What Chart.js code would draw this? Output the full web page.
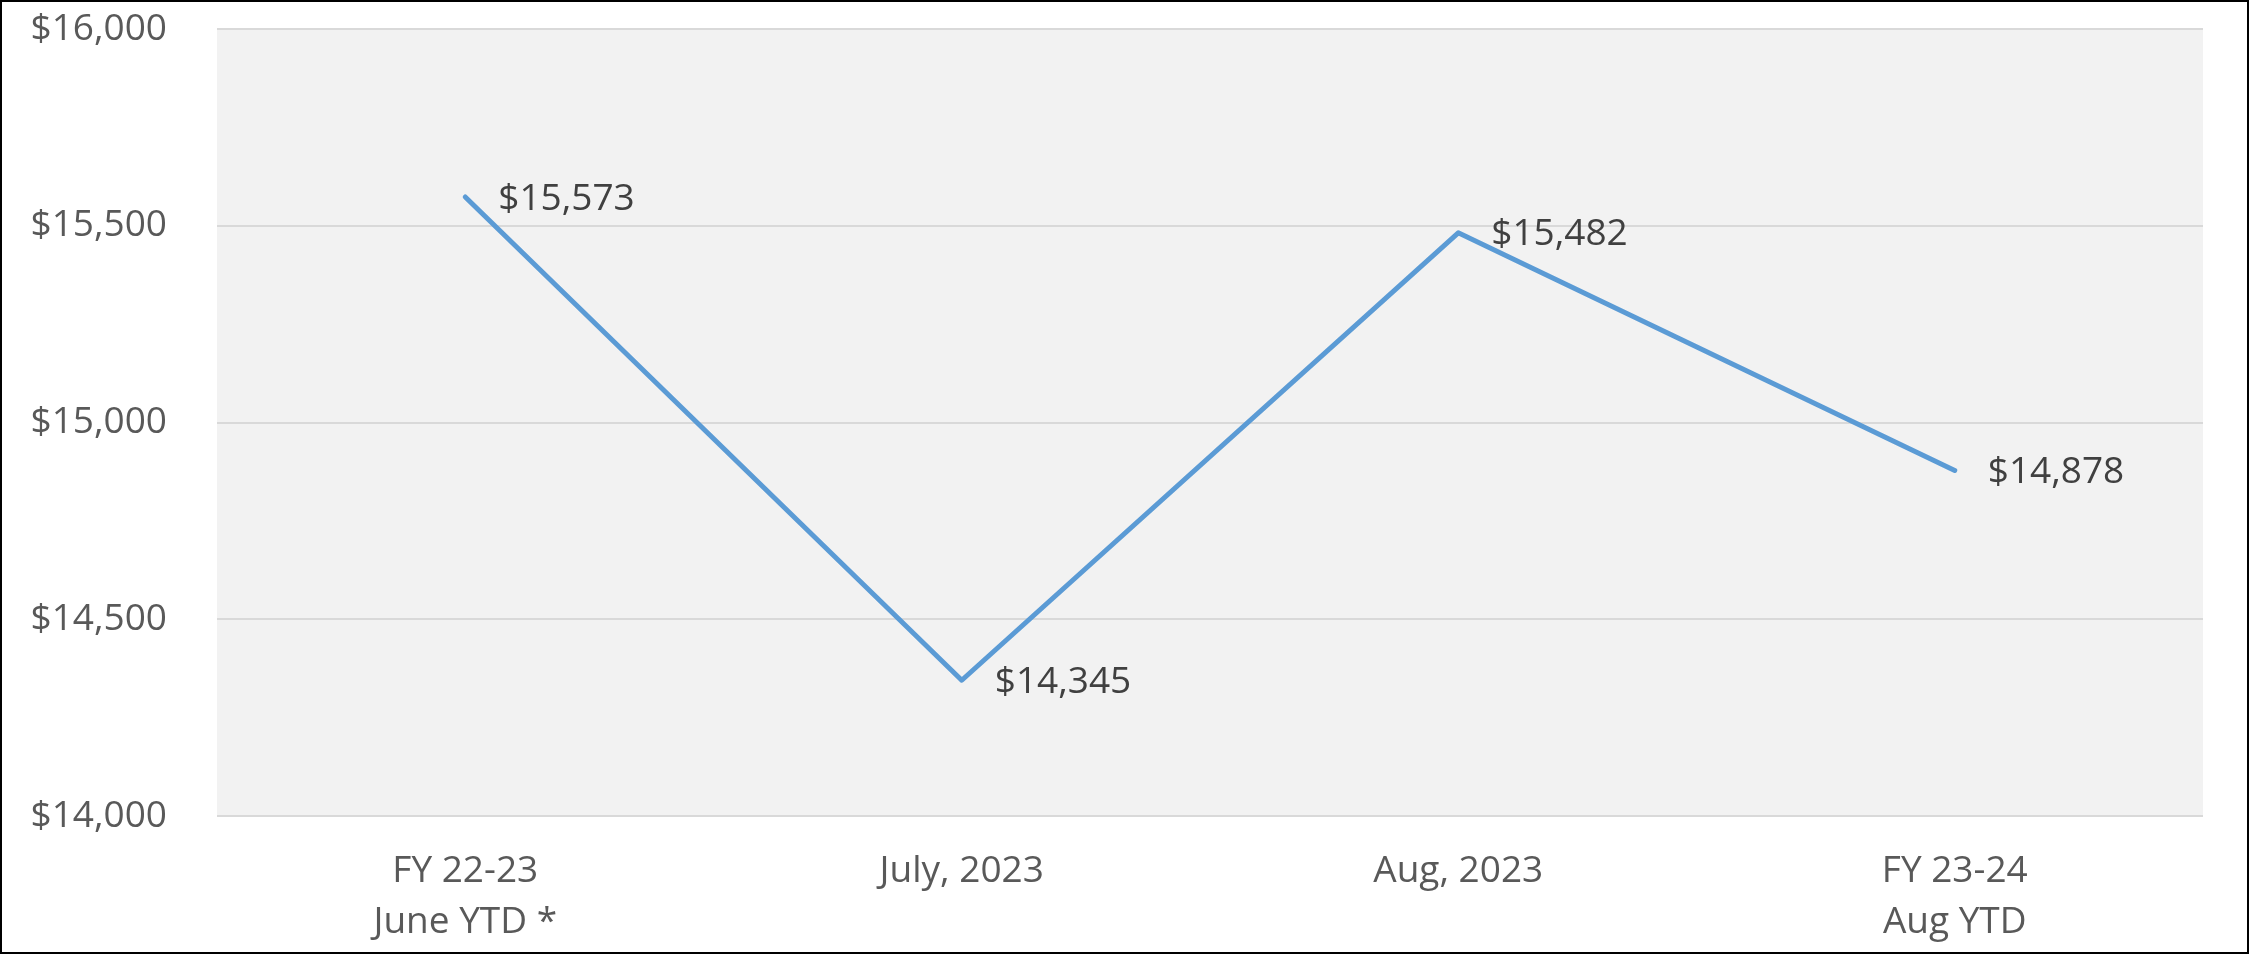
<!DOCTYPE html>
<html>
<head>
<meta charset="utf-8">
<script src="https://cdn.jsdelivr.net/npm/chart.js@4"></script>
<style>
  body { margin: 0; background: #fff; }
  #frame { width: 2249px; height: 954px; box-sizing: border-box; border: 2px solid #000; background: #fff; }
</style>
</head>
<body>
<div id="frame"><canvas id="myChart" width="2245" height="950"></canvas></div>
<script>
const categories = [["FY 22-23", "June YTD *"], "July, 2023", "Aug, 2023", ["FY 23-24", "Aug YTD"]];
const avgValues = [15573, 14345, 15482, 14878];
const yTicks = [14000, 14500, 15000, 15500, 16000];

const money = (v) => "$" + v.toLocaleString("en-US");

// grey plot area like the Excel original
const plotBackground = {
  id: "plotBackground",
  beforeDraw(chart) {
    const { ctx, chartArea } = chart;
    ctx.save();
    ctx.fillStyle = "#f2f2f2";
    ctx.fillRect(chartArea.left, chartArea.top, chartArea.right - chartArea.left, chartArea.bottom - chartArea.top);
    ctx.restore();
  }
};

// value labels to the right of each point
const valueLabels = {
  id: "valueLabels",
  afterDatasetsDraw(chart) {
    const ctx = chart.ctx;
    const meta = chart.getDatasetMeta(0);
    ctx.save();
    ctx.font = "37px 'Open Sans'";
    ctx.fillStyle = "#404040";
    ctx.textAlign = "left";
    ctx.textBaseline = "middle";
    meta.data.forEach((pt, i) => {
      ctx.fillText(money(avgValues[i]), pt.x + 33, pt.y + 2);
    });
    ctx.restore();
  }
};

const myChart = document.getElementById("myChart");

let lineChart = new Chart(myChart, {
  type: "line",
  data: {
    labels: categories,
    datasets: [
      {
        data: avgValues,
        borderColor: "#5b9bd5",
        borderWidth: 5,
        borderCapStyle: "round",
        borderJoinStyle: "round",
        pointRadius: 0,
        tension: 0,
        fill: false,
      },
    ],
  },
  options: {
    responsive: false,
    animation: false,
    layout: { padding: { left: 0, right: 44, top: 27, bottom: 0 } },
    plugins: {
      legend: { display: false },
      tooltip: { enabled: false },
    },
    scales: {
      x: {
        offset: true,
        grid: { display: false, drawTicks: false },
        border: { display: false },
        ticks: {
          color: "#595959",
          font: { family: "'Open Sans'", size: 37, lineHeight: 1.38 },
          padding: 30,
          maxRotation: 0,
        },
        afterFit(scale) { scale.height = 136; },
      },
      y: {
        min: 14000,
        max: 16000,
        afterBuildTicks(scale) { scale.ticks = yTicks.map((v) => ({ value: v })); },
        grid: { color: "#d9d9d9", lineWidth: 2, drawTicks: false },
        border: { display: false },
        ticks: {
          color: "#595959",
          font: { family: "'Open Sans'", size: 37 },
          padding: 50,
          callback: (v) => money(v),
        },
        afterFit(scale) {
          scale.width = 215;
          scale.paddingTop = 0;
          scale.paddingBottom = 0;
        },
      },
    },
  },
  plugins: [plotBackground, valueLabels],
});
</script>
</body>
</html>
